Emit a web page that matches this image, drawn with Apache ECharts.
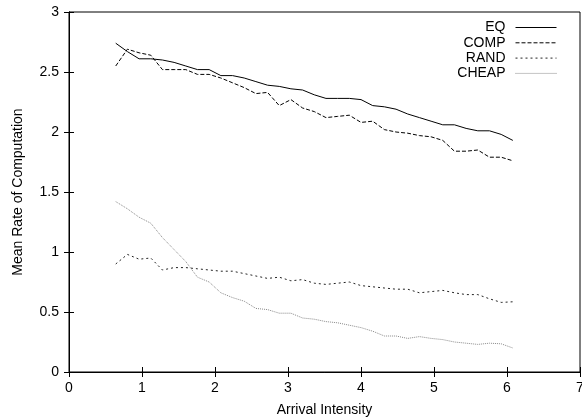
<!DOCTYPE html>
<html>
<head>
<meta charset="utf-8">
<script src="https://cdn.jsdelivr.net/npm/echarts@6/dist/echarts.min.js"></script>
<style>
  html, body { margin: 0; padding: 0; background: #fff; }
  #chart { width: 582px; height: 420px; }
</style>
</head>
<body>
<div id="chart"></div>
<script>
// arrival intensity (x) for each sample
var intensity = [0.64, 0.80, 0.96, 1.12, 1.28, 1.44, 1.60, 1.76, 1.92, 2.08,
  2.24, 2.40, 2.56, 2.72, 2.88, 3.04, 3.20, 3.36, 3.52, 3.68,
  3.84, 4.00, 4.16, 4.32, 4.48, 4.64, 4.80, 4.96, 5.12, 5.28,
  5.44, 5.60, 5.76, 5.92, 6.08];

var eqRate = [2.74, 2.67, 2.61, 2.61, 2.60, 2.58, 2.55, 2.52, 2.52, 2.47,
  2.47, 2.45, 2.42, 2.39, 2.38, 2.36, 2.35, 2.31, 2.28, 2.28,
  2.28, 2.27, 2.22, 2.21, 2.19, 2.15, 2.12, 2.09, 2.06, 2.06,
  2.03, 2.01, 2.01, 1.98, 1.93];

var compRate = [2.55, 2.69, 2.66, 2.64, 2.52, 2.52, 2.52, 2.48, 2.48, 2.45,
  2.41, 2.37, 2.32, 2.33, 2.22, 2.27, 2.20, 2.17, 2.12, 2.13,
  2.14, 2.08, 2.09, 2.02, 2.00, 1.99, 1.97, 1.96, 1.93, 1.84,
  1.84, 1.85, 1.79, 1.79, 1.76];

var randRate = [0.90, 0.98, 0.94, 0.95, 0.85, 0.87, 0.87, 0.86, 0.85, 0.84,
  0.84, 0.82, 0.80, 0.78, 0.79, 0.76, 0.77, 0.74, 0.73, 0.74,
  0.75, 0.72, 0.71, 0.70, 0.69, 0.69, 0.66, 0.67, 0.68, 0.66,
  0.645, 0.645, 0.61, 0.58, 0.585];

var cheapRate = [1.42, 1.36, 1.29, 1.24, 1.12, 1.02, 0.92, 0.79, 0.75, 0.66,
  0.62, 0.59, 0.53, 0.52, 0.49, 0.49, 0.45, 0.44, 0.42, 0.41,
  0.39, 0.37, 0.34, 0.30, 0.30, 0.28, 0.295, 0.28, 0.27, 0.25,
  0.24, 0.23, 0.24, 0.235, 0.20];

var seriesNames = ['EQ', 'COMP', 'RAND', 'CHEAP'];

function pairs(ys) {
  var out = [];
  for (var i = 0; i < ys.length; i++) {
    out.push([intensity[i], ys[i]]);
  }
  return out;
}

var chart = echarts.init(document.getElementById('chart'));
var font = 'Liberation Sans, Arial, Helvetica, sans-serif';

var option = {
  animation: false,
  textStyle: { fontFamily: font },
  grid: {
    left: 69, right: 2, top: 12, bottom: 48,
    outerBoundsMode: 'none',
    show: true, borderColor: '#000', borderWidth: 1
  },
  legend: {
    data: seriesNames,
    orient: 'vertical',
    align: 'right',
    right: 20,
    top: 15,
    itemWidth: 41,
    itemHeight: 10,
    itemGap: 0.3,
    itemStyle: { opacity: 0 },
    lineStyle: { width: 1 },
    textStyle: { fontFamily: font, fontSize: 14, lineHeight: 15, color: '#000', padding: [0, 5, 0, 0] }
  },
  xAxis: [
    {
      type: 'value', min: 0, max: 7, interval: 1,
      name: 'Arrival Intensity', nameLocation: 'middle', nameGap: 31,
      nameTextStyle: { fontFamily: font, fontSize: 14, color: '#000' },
      axisLine: { lineStyle: { color: '#000' } },
      axisTick: { inside: true, length: 5, lineStyle: { color: '#000' } },
      axisLabel: { color: '#000', fontSize: 14, margin: 9, fontFamily: font },
      splitLine: { show: false }
    },
    {
      type: 'value', min: 0, max: 7, interval: 1, position: 'top',
      axisLine: { lineStyle: { color: '#000' } },
      axisTick: { inside: true, length: 5, lineStyle: { color: '#000' } },
      axisLabel: { show: false },
      splitLine: { show: false }
    }
  ],
  yAxis: [
    {
      type: 'value', min: 0, max: 3, interval: 0.5,
      name: 'Mean Rate of Computation', nameLocation: 'middle', nameGap: 44,
      nameTextStyle: { fontFamily: font, fontSize: 14, color: '#000' },
      axisLine: { show: true, lineStyle: { color: '#000' } },
      axisTick: { show: true, inside: true, length: 5, lineStyle: { color: '#000' } },
      axisLabel: { color: '#000', fontSize: 14, margin: 10, fontFamily: font },
      splitLine: { show: false }
    },
    {
      type: 'value', min: 0, max: 3, interval: 0.5, position: 'right',
      axisLine: { show: true, lineStyle: { color: '#000' } },
      axisTick: { show: true, inside: true, length: 5, lineStyle: { color: '#000' } },
      axisLabel: { show: false },
      splitLine: { show: false }
    }
  ],
  series: [
    {
      name: 'EQ', type: 'line', data: pairs(eqRate), symbol: 'none',
      color: '#000', lineStyle: { color: '#000', width: 1, type: 'solid' }
    },
    {
      name: 'COMP', type: 'line', data: pairs(compRate), symbol: 'none',
      color: '#000', lineStyle: { color: '#000', width: 1, type: [4, 2] }
    },
    {
      name: 'RAND', type: 'line', data: pairs(randRate), symbol: 'none',
      color: '#222', lineStyle: { color: '#222', width: 1, type: [2, 3] }
    },
    {
      name: 'CHEAP', type: 'line', data: pairs(cheapRate), symbol: 'none',
      color: '#888', lineStyle: { color: '#888', width: 1, type: [1, 1] }
    }
  ]
};

chart.setOption(option);
</script>
</body>
</html>
